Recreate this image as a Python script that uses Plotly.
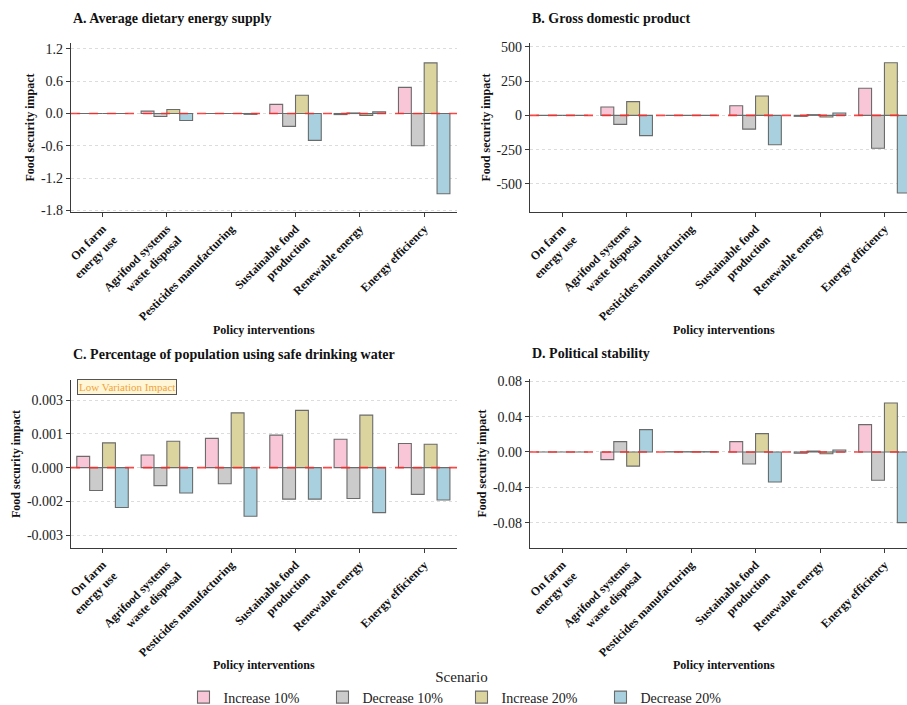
import plotly.graph_objects as go

# Policy interventions (x categories)
categories = [
    "On farm<br>energy use",
    "Agrifood systems<br>waste disposal",
    "Pesticides manufacturing",
    "Sustainable food<br>production",
    "Renewable energy",
    "Energy efficiency",
]

scenarios = ["Increase 10%", "Decrease 10%", "Increase 20%", "Decrease 20%"]
colors = ["#f8c6d6", "#cbcbcb", "#dcd49f", "#a9d0de"]

# A. Average dietary energy supply
dies_inc10 = [0.0, 0.044, 0.0, 0.17, -0.02, 0.485]
dies_dec10 = [0.0, -0.056, 0.0, -0.24, 0.01, -0.60]
dies_inc20 = [0.0, 0.075, 0.0, 0.34, -0.035, 0.94]
dies_dec20 = [0.0, -0.13, -0.015, -0.50, 0.03, -1.49]

# B. Gross domestic product
gdp_inc10 = [0, 61, 0, 70, -7, 197]
gdp_dec10 = [0, -66, 0, -100, 5, -240]
gdp_inc20 = [0, 100, 0, 141, -12, 383]
gdp_dec20 = [0, -148, 0, -214, 17, -566]

# C. Percentage of population using safe drinking water
water_inc10 = [0.0005, 0.00056, 0.0013, 0.00144, 0.00126, 0.00107]
water_dec10 = [-0.00102, -0.0008, -0.00072, -0.0014, -0.00137, -0.00119]
water_inc20 = [0.0011, 0.00117, 0.00243, 0.00254, 0.00233, 0.00104]
water_dec20 = [-0.00177, -0.00113, -0.00216, -0.0014, -0.002, -0.00144]

# D. Political stability
pol_inc10 = [0.0, -0.0087, 0.0003, 0.0117, -0.0015, 0.031]
pol_dec10 = [0.0, 0.0117, 0.0003, -0.0136, 0.001, -0.032]
pol_inc20 = [0.0, -0.016, 0.0003, 0.0208, -0.002, 0.0555]
pol_dec20 = [0.0, 0.0253, 0.0003, -0.034, 0.0023, -0.080]

panels = [
    dict(title="A. Average dietary energy supply",
         series=[dies_inc10, dies_dec10, dies_inc20, dies_dec20],
         tickvals=[1.2, 0.6, 0.0, -0.6, -1.2, -1.8],
         ticktext=["1.2", "0.6", "0.0", "-0.6", "-1.2", "-1.8"],
         yrange=[-1.83, 1.31]),
    dict(title="B. Gross domestic product",
         series=[gdp_inc10, gdp_dec10, gdp_inc20, gdp_dec20],
         tickvals=[500, 250, 0, -250, -500],
         ticktext=["500", "250", "0", "-250", "-500"],
         yrange=[-704, 527]),
    dict(title="C. Percentage of population using safe drinking water",
         series=[water_inc10, water_dec10, water_inc20, water_dec20],
         tickvals=[0.003, 0.0015, 0.0, -0.0015, -0.003],
         ticktext=["0.003", "0.001", "0.000", "-0.002", "-0.003"],
         yrange=[-0.00357, 0.00389]),
    dict(title="D. Political stability",
         series=[pol_inc10, pol_dec10, pol_inc20, pol_dec20],
         tickvals=[0.08, 0.04, 0.0, -0.04, -0.08],
         ticktext=["0.08", "0.04", "0.00", "-0.04", "-0.08"],
         yrange=[-0.1087, 0.0826]),
]

W, H = 907, 705
# plot-area boxes in pixels: (left, right, top, bottom)
boxes = [(71, 457, 43, 212), (530, 907, 43, 212),
         (71, 457, 380, 548), (530, 907, 379, 548)]
xranges = [[-0.49, 5.51], [-0.5, 5.35], [-0.49, 5.51], [-0.5, 5.35]]
xtitle_x = [264, 724, 264, 724]
xtitle_y = [330, 330, 665, 665]

serif = "Liberation Serif, Times New Roman, serif"
fig = go.Figure()
layout = {}
annotations = []
shapes = []

for i, p in enumerate(panels):
    n = i + 1
    xa = "x" if n == 1 else f"x{n}"
    ya = "y" if n == 1 else f"y{n}"
    l, r, t, b = boxes[i]
    for j, vals in enumerate(p["series"]):
        fig.add_trace(go.Bar(
            x=list(range(len(categories))), y=vals, name=scenarios[j],
            marker=dict(color=colors[j], line=dict(color="#6b6b6b", width=1.1)),
            xaxis=xa, yaxis=ya, offsetgroup=str(j),
            showlegend=(i == 0), legendgroup=scenarios[j],
        ))
    layout[f"xaxis{'' if n == 1 else n}"] = dict(
        domain=[l / W, r / W], anchor=ya, range=xranges[i],
        tickvals=list(range(len(categories))), ticktext=categories,
        tickangle=-45, showgrid=False, zeroline=False,
        showline=True, linecolor="#3a3a3a", linewidth=1.3,
        ticks="outside", ticklen=4, tickcolor="#3a3a3a",
        tickfont=dict(family=serif, size=12, color="#111111", weight="bold"),
    )
    layout[f"yaxis{'' if n == 1 else n}"] = dict(
        domain=[1 - b / H, 1 - t / H], anchor=xa, range=p["yrange"],
        tickvals=p["tickvals"], ticktext=p["ticktext"],
        showgrid=True, gridcolor="#dcdcdc", griddash="dot", gridwidth=1,
        zeroline=False, showline=True, linecolor="#3a3a3a", linewidth=1.3,
        ticks="outside", ticklen=4, tickcolor="#3a3a3a",
        tickfont=dict(family=serif, size=14, color="#222222"),
        title=dict(text="<b>Food security impact</b>", standoff=3,
                   font=dict(family=serif, size=12, color="#111111")),
    )
    # panel title
    annotations.append(dict(
        text=f"<b>{p['title']}</b>", x=l / W, y=1 - (t - 25) / H,
        xref="paper", yref="paper", xanchor="left", yanchor="middle",
        showarrow=False, font=dict(family=serif, size=14, color="#111111")))
    # x axis title
    annotations.append(dict(
        text="<b>Policy interventions</b>", x=xtitle_x[i] / W, y=1 - xtitle_y[i] / H,
        xref="paper", yref="paper", xanchor="center", yanchor="middle",
        showarrow=False, font=dict(family=serif, size=12, color="#111111")))
    # reference line at zero
    shapes.append(dict(
        type="line", xref=f"{xa} domain", yref=ya, x0=0, x1=1, y0=0, y1=0,
        line=dict(color="rgba(255,40,40,0.85)", width=1.6, dash="dash"), layer="above"))

annotations.append(dict(
    text="Low Variation Impact", x=77 / W, y=1 - 387 / H, xref="paper", yref="paper",
    xanchor="left", yanchor="middle", showarrow=False,
    font=dict(family=serif, size=11, color="#f2a33a"),
    bgcolor="#fff6d8", bordercolor="#555555", borderwidth=1, borderpad=1))

fig.update_layout(
    width=W, height=H,
    margin=dict(l=0, r=0, t=0, b=0, autoexpand=False),
    paper_bgcolor="white", plot_bgcolor="white",
    barmode="group", bargap=0.2, bargroupgap=0.0,
    annotations=annotations, shapes=shapes,
    legend=dict(
        orientation="h", x=0.5 + 8 / W, xanchor="center",
        y=1 - 662 / H, yanchor="top",
        title=dict(text="Scenario", side="top center",
                   font=dict(family=serif, size=15, color="#222222")),
        font=dict(family=serif, size=14, color="#222222"),
        entrywidth=94, entrywidthmode="pixels", itemwidth=30,
        tracegroupgap=0, borderwidth=0,
    ),
    **layout,
)

fig.write_html("out.html")
